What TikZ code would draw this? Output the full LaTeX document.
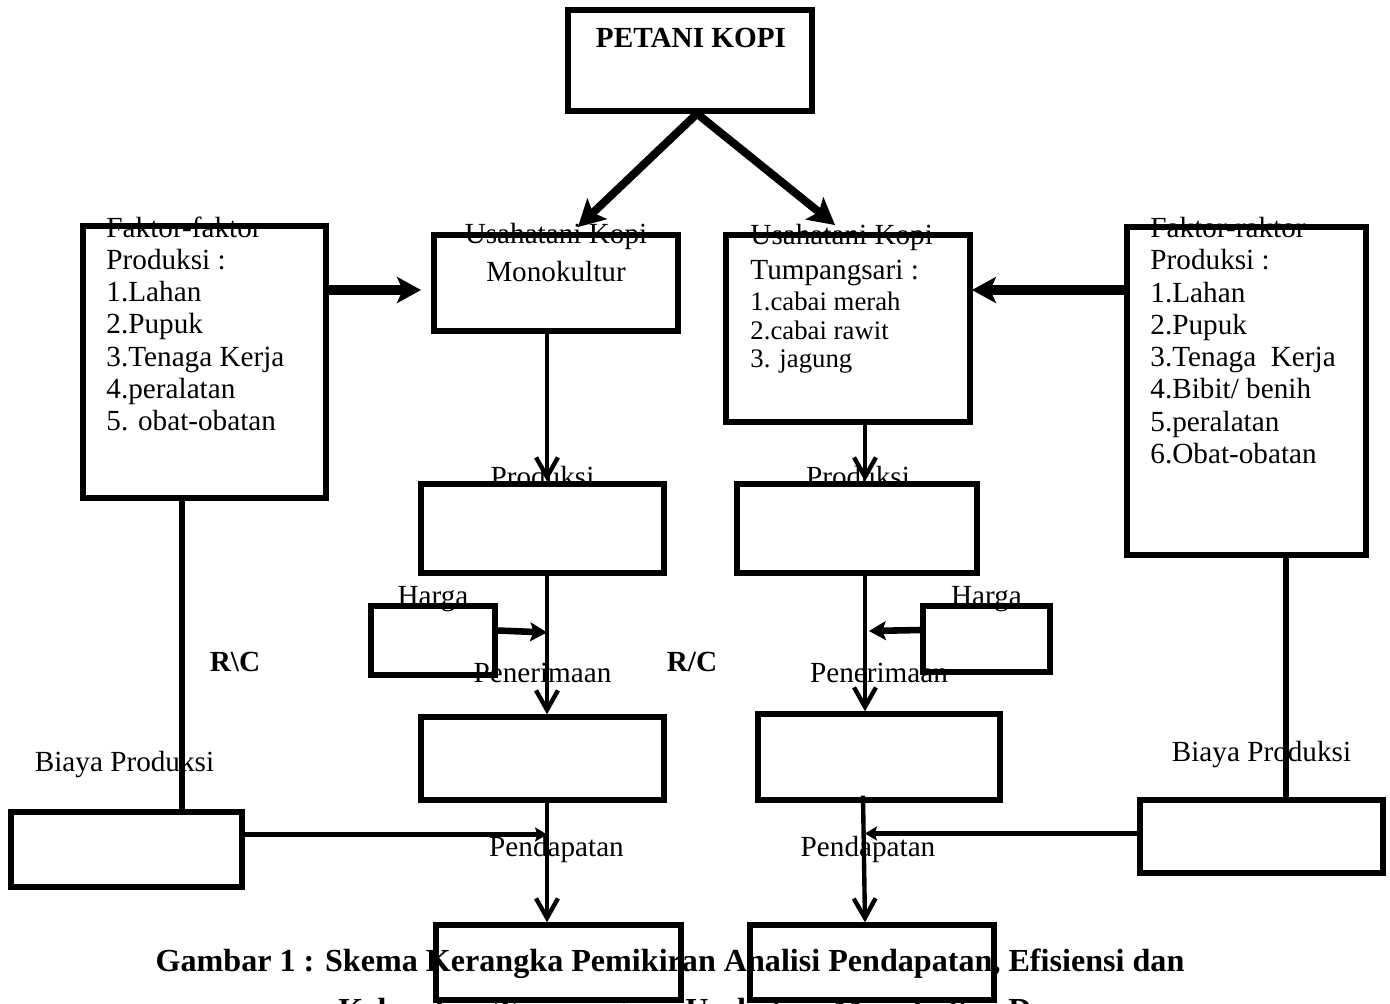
\documentclass[tikz,border=0pt]{standalone}
\usepackage{fontspec}
\setmainfont{Liberation Serif}
\usetikzlibrary{arrows.meta, positioning, calc}
\newcommand{\pxu}{0.411pt}

\begin{document}
\begin{tikzpicture}[x=\pxu, y=-\pxu,
  box/.style 2 args={draw, line width=2.2pt, minimum width=#1*\pxu,
                     minimum height=#2*\pxu, inner sep=0pt},
  lbl/.style={font=\fontsize{12}{13.25}\selectfont, inner sep=0pt, align=left},
  lst/.style={font=\fontsize{11}{11.9}\selectfont, inner sep=0pt, align=left},
  big/.style={font=\fontsize{12}{13.25}\selectfont\bfseries, inner sep=0pt},
  capt/.style={font=\fontsize{13.2}{15}\selectfont\bfseries, inner sep=0pt},
  split/.style={line width=3.3pt,
                -{Stealth[length=11pt, width=12pt, inset=2.5pt, line width=0pt]}},
  fat/.style={line width=4pt,
              -{Stealth[length=10pt, width=11pt, inset=2.5pt, line width=0pt]}},
  flow/.style={line width=1.8pt, -{Straight Barb[length=8pt, width=9pt]}},
  harga/.style={line width=2.7pt,
                -{Stealth[length=7pt, width=8pt, inset=1.5pt, line width=0pt]}},
  cost/.style={line width=2.2pt,
               -{Stealth[length=5pt, width=6pt, inset=1pt, line width=0pt]}},
  link/.style={line width=2.4pt}
]
\useasboundingbox (0,0) rectangle (1390,1003);

% Petani
\node[box={244}{101}] (petani) at (690,60.5) {};
\node[big] at ($(petani.north)+(1,31)$) {PETANI KOPI};

% Usahatani boxes
\node[box={244}{96}] (mono) at (556,283) {};
\node[box={244}{187}] (tump) at (848,328.5) {};
\node[lbl] at ($(mono.north)+(0,4)$) {Usahatani Kopi};
\node[lbl] at ($(mono.north)+(0,39)$) {Monokultur};
\node[lbl, font=\fontsize{12}{14.4}\selectfont, anchor=north west] at (750,224)
  {Usahatani Kopi\\Tumpangsari :};
\node[lst, anchor=north west] at (750,291)
  {1.cabai merah\\2.cabai rawit\\3. jagung};

% Faktor produksi
\node[box={243}{272}] (faktL) at (204.5,362) {};
\node[box={239}{328}] (faktR) at (1246.5,391) {};
\node[lbl, anchor=north west] at (106,216)
  {Faktor-faktor\\Produksi :\\1.Lahan\\2.Pupuk\\3.Tenaga Kerja\\4.peralatan\\5. obat-obatan};
\node[lbl, anchor=north west] at (1150,217)
  {Faktor-raktor\\Produksi :\\1.Lahan\\2.Pupuk\\3.Tenaga\ \ Kerja\\4.Bibit/ benih\\5.peralatan\\6.Obat-obatan};

% Produksi
\node[box={243}{89}] (prodL) at (542.5,528.5) {};
\node[box={240}{89}] (prodR) at (857,528.5) {};
\node[lbl] at ($(prodL.north)+(0,-5)$) {Produksi};
\node[lbl] at ($(prodR.north)+(1,-5)$) {Produksi};

% Harga
\node[box={124}{69}] (hrgL) at (433,640.5) {};
\node[box={127}{66}] (hrgR) at (986.5,639) {};
\node[lbl] at ($(hrgL.north)+(0,-4)$) {Harga};
\node[lbl] at ($(hrgR.north)+(0,-4)$) {Harga};

% Penerimaan
\node[box={243}{83}] (terL) at (542.5,758.5) {};
\node[box={242}{86}] (terR) at (879,757) {};
\node[lbl] at ($(terL.north)+(0,-41)$) {Penerimaan};
\node[lbl] at ($(terR.north)+(0,-38)$) {Penerimaan};

% Biaya produksi
\node[box={231}{75}] (biaL) at (126.5,849.5) {};
\node[box={243}{73}] (biaR) at (1261.5,836.5) {};
\node[lbl] at ($(biaL.north)+(-2,-45)$) {Biaya Produksi};
\node[lbl] at ($(biaR.north)+(0,-43)$) {Biaya Produksi};

% Pendapatan
\node[box={245}{75}] (dptL) at (558.5,962.5) {};
\node[box={244}{75}] (dptR) at (872,962.5) {};
\node[lbl] at ($(dptL.north)+(-2,-73)$) {Pendapatan};
\node[lbl] at ($(dptR.north)+(-4,-73)$) {Pendapatan};

% R/C
\node[big] (rcL) at (235,662) {R\textbackslash C};
\node[big] (rcM) at (692,662) {R/C};

% Arrows from petani
\coordinate (tipM) at (578,227);
\coordinate (tipT) at (835,225);
\draw[split] ($(petani.south)+(7,0)$) -- (tipM);
\draw[split] ($(petani.south)+(7,0)$) -- (tipT);

% Faktor to usahatani
\coordinate (aL) at (421,290);
\coordinate (aR) at (972,290);
\draw[fat] (faktL.east |- aL) -- (aL);
\draw[fat] (faktR.west |- aR) -- (aR);

% Main flow
\coordinate (xL) at (547,0);
\coordinate (xR) at (865,0);
\draw[flow] (mono.south -| xL) -- (prodL.north -| xL);
\draw[flow] (tump.south -| xR) -- (prodR.north -| xR);
\draw[flow] (prodL.south -| xL) -- (terL.north -| xL);
\draw[flow] (prodR.south -| xR) -- (terR.north -| xR);
\draw[flow] (terL.south -| xL) -- (dptL.north -| xL);
\draw[flow] ($(terR.south -| xR)+(-2,-7)$) -- (dptR.north -| xR);

% Harga
\draw[harga] ($(hrgL.east)+(0,-10)$) -- ($(hrgL.east -| xL)+(0,-8)$);
\draw[harga] ($(hrgR.west)+(0,-9)$) -- ($(hrgR.west -| xR)+(4,-8)$);

% Biaya
\coordinate (xB) at (182,0);
\coordinate (xC) at (1286,0);
\draw[link] (faktL.south -| xB) -- (biaL.north -| xB);
\draw[link] (faktR.south -| xC) -- (biaR.north -| xC);
\draw[cost] ($(biaL.east)+(0,-15)$) -- ($(biaL.east -| xL)+(0,-15)$);
\draw[cost] ($(biaR.west)+(0,-3)$) -- ($(biaR.west -| xR)+(0,-3)$);

% Caption
\node[capt, anchor=base] at (670,971)
  {Gambar 1 : Skema Kerangka Pemikiran Analisi Pendapatan, Efisiensi dan};
\node[capt, anchor=base west] at (338,1020)
  {Kelayakan Tumpangsari Usahatani Monokultur Desa};

\end{tikzpicture}
\end{document}
